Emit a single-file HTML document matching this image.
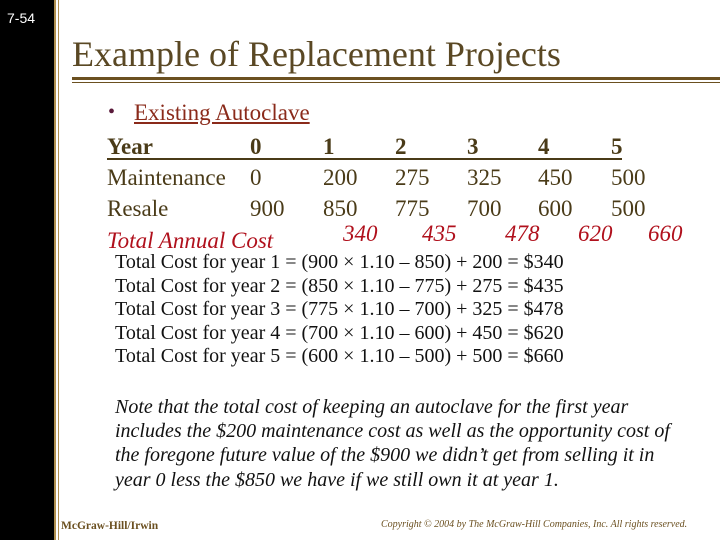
<!DOCTYPE html>
<html><head><meta charset="utf-8"><style>
body{margin:0;width:720px;height:540px;background:#fff;position:relative;overflow:hidden;font-family:"Liberation Serif",serif}
.a{position:absolute;white-space:nowrap}
.r{color:#4a3b18;font-size:23px}
.f{color:#111;font-size:20px}
.n{color:#111;font-size:20px;font-style:italic}
.t{color:#b0101c;font-size:23px;font-style:italic}
</style></head><body>
<div class="a" style="left:0;top:0;width:54px;height:540px;background:#000"></div>
<div class="a" style="left:54px;top:0;width:5px;height:540px;border-left:2px solid #b09050;border-right:1px solid #b09050;box-sizing:border-box"></div>
<div class="a" style="left:7px;top:10px;color:#fff;font-family:'Liberation Sans',sans-serif;font-size:14px">7-54</div>
<div class="a" style="left:72px;top:33px;color:#5a4824;font-size:36px">Example of Replacement Projects</div>
<div class="a" style="left:72px;top:77px;width:648px;height:3px;background:#6b5020"></div>
<div class="a" style="left:72px;top:82px;width:648px;height:1px;background:#6b5020"></div>
<div class="a" style="left:108px;top:101px;color:#5a1a3a;font-size:20px">•</div>
<div class="a" style="left:134px;top:100px;color:#8a2a1a;font-size:23px;text-decoration:underline">Existing Autoclave</div>
<div class="a" style="left:107px;top:158px;width:515px;height:1.5px;background:#4a3b18"></div>
<div id="tbl"></div>
<div class="a t" style="left:107px;top:228px">Total Annual Cost</div>
<div id="form"></div>
<div class="a n" style="left:115px;top:395px;line-height:24.2px">Note that the total cost of keeping an autoclave for the first year<br>includes the $200 maintenance cost as well as the opportunity cost of<br>the foregone future value of the $900 we didn’t get from selling it in<br>year 0 less the $850 we have if we still own it at year 1.</div>
<div class="a" style="left:61px;top:520px;color:#6b5020;font-size:11.5px;font-weight:bold">McGraw-Hill/Irwin</div>
<div class="a" style="left:381px;top:519px;color:#6b5020;font-size:10px;font-style:italic">Copyright © 2004 by The McGraw-Hill Companies, Inc.  All rights reserved.</div>
<script>
const years=["0","1","2","3","4","5"];
const maintenance=["0","200","275","325","450","500"];
const resale=["900","850","775","700","600","500"];
const totals=["340","435","478","620","660"];
const colX=[250,323,395,467,538,611];
const totX=[343,422,505,578,648];
const body=document.body;
function add(txt,cls,x,y,name,style){
 const d=document.createElement('div');d.className='a '+cls;d.textContent=txt;
 d.style.left=x+'px';d.style.top=y+'px';if(style)d.style.cssText+=style;
 
 
 body.appendChild(d);}
add('Year','r',107,134,'year-label','font-weight:bold');
add('Maintenance','r',107,165,'maintenance-label');
add('Resale','r',107,196,'resale-label');
years.forEach((v,i)=>add(v,'r',colX[i],134,'year-'+v,'font-weight:bold'));
maintenance.forEach((v,i)=>add(v,'r',colX[i],165,'maintenance-'+i));
resale.forEach((v,i)=>add(v,'r',colX[i],196,'resale-'+i));
totals.forEach((v,i)=>add(v,'t',totX[i],221,'total-'+(i+1)));
for(let i=0;i<5;i++){
 const prev=+resale[i],cur=+resale[i+1],m=maintenance[i+1];
 add('Total Cost for year '+(i+1)+' = ('+prev+' × 1.10 – '+cur+') + '+m+' = $'+totals[i],'f',115,251+i*23.6,'formula-year-'+(i+1));
}
</script>
</body></html>
